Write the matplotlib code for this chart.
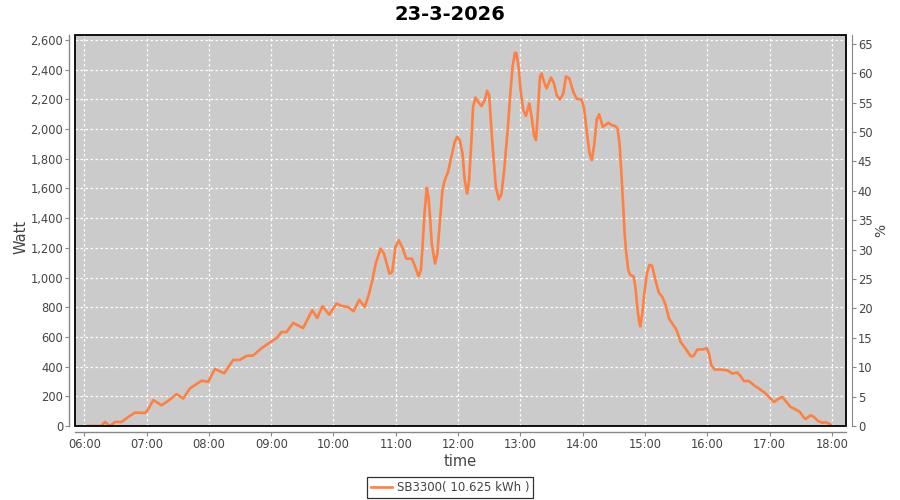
import matplotlib
matplotlib.use("Agg")
import matplotlib.pyplot as plt
from matplotlib.ticker import FuncFormatter, MultipleLocator, FixedLocator
from matplotlib.patches import Rectangle

title = "23-3-2026"
series_name = "SB3300( 10.625 kWh )"

hours = [6.064, 6.267, 6.332, 6.412, 6.492, 6.599, 6.706, 6.813, 6.973, 7.016,
         7.107, 7.241, 7.348, 7.481, 7.588, 7.695, 7.882, 7.989, 8.096, 8.246,
         8.390, 8.497, 8.604, 8.711, 8.845, 9.005, 9.086, 9.166, 9.246, 9.353,
         9.513, 9.658, 9.738, 9.824, 9.930, 10.048, 10.128, 10.228, 10.323, 10.413,
         10.503, 10.571, 10.624, 10.677, 10.757, 10.810, 10.899, 10.942, 10.995, 11.048,
         11.101, 11.169, 11.259, 11.312, 11.365, 11.402, 11.429, 11.460, 11.497, 11.524,
         11.550, 11.577, 11.630, 11.667, 11.709, 11.748, 11.786, 11.839, 11.893, 11.946,
         11.984, 12.027, 12.070, 12.107, 12.145, 12.177, 12.214, 12.241, 12.279, 12.322,
         12.375, 12.429, 12.466, 12.499, 12.525, 12.563, 12.606, 12.654, 12.697, 12.740,
         12.804, 12.842, 12.874, 12.912, 12.938, 12.971, 13.003, 13.046, 13.088, 13.142,
         13.180, 13.217, 13.249, 13.276, 13.314, 13.340, 13.378, 13.421, 13.491, 13.539,
         13.582, 13.635, 13.689, 13.731, 13.785, 13.849, 13.903, 13.984, 14.022, 14.065,
         14.108, 14.145, 14.183, 14.226, 14.263, 14.323, 14.414, 14.466, 14.522, 14.559,
         14.591, 14.618, 14.645, 14.672, 14.699, 14.731, 14.763, 14.817, 14.844, 14.882,
         14.909, 14.925, 14.957, 14.989, 15.032, 15.070, 15.113, 15.167, 15.220, 15.278,
         15.332, 15.385, 15.439, 15.508, 15.572, 15.652, 15.733, 15.775, 15.840, 15.947,
         15.989, 16.027, 16.064, 16.118, 16.214, 16.321, 16.401, 16.481, 16.535, 16.588,
         16.668, 16.749, 16.829, 16.920, 16.989, 17.070, 17.123, 17.203, 17.257, 17.337,
         17.417, 17.487, 17.540, 17.578, 17.658, 17.711, 17.775, 17.845, 17.898, 17.952,
         17.989]

watts = [0, 0, 27, 0, 27, 27, 61, 90, 88, 106,
         174, 140, 170, 215, 185, 253, 305, 298, 384, 355,
         445, 445, 472, 475, 524, 570, 592, 633, 633, 694,
         660, 780, 728, 807, 750, 825, 810, 802, 773, 850,
         802, 892, 982, 1094, 1195, 1161, 1026, 1038, 1206, 1251,
         1206, 1127, 1127, 1071, 1009, 1049, 1206, 1430, 1605, 1542,
         1408, 1228, 1094, 1161, 1380, 1589, 1656, 1712, 1813, 1915,
         1948, 1926, 1836, 1656, 1566, 1656, 1926, 2151, 2213, 2184,
         2155, 2196, 2258, 2229, 2061, 1836, 1611, 1526, 1566, 1724,
         2038, 2263, 2420, 2515, 2510, 2420, 2263, 2128, 2088, 2173,
         2083, 1960, 1926, 2083, 2353, 2375, 2319, 2274, 2348, 2308,
         2229, 2200, 2240, 2355, 2342, 2250, 2205, 2198, 2140, 1985,
         1840, 1791, 1890, 2066, 2100, 2015, 2043, 2027, 2020, 2004,
         1903, 1724, 1522, 1298, 1164, 1052, 1018, 1007, 940, 780,
         693, 671, 761, 895, 1030, 1086, 1079, 985, 900, 870,
         813, 724, 690, 645, 566, 521, 470, 470, 515, 517,
         526, 488, 409, 380, 380, 375, 353, 360, 335, 303,
         303, 274, 252, 225, 196, 162, 178, 196, 169, 128,
         112, 94, 61, 47, 72, 61, 34, 22, 25, 16,
         4]

x_ticks = [6, 7, 8, 9, 10, 11, 12, 13, 14, 15, 16, 17, 18]
pct_ticks = list(range(0, 66, 5))

line_color = "#ff8040"
plot_bg = "#cbcbcb"
txt = "#444444"
axis_col = "#888888"

fig = plt.figure(figsize=(9, 5), dpi=100)
fig.patch.set_facecolor("white")
ax = fig.add_axes([75/900, 74/500, 771/900, 391/500])
ax.set_facecolor(plot_bg)
ax.plot(hours, watts, color=line_color, lw=1.9, label=series_name, zorder=3)

ax.set_xlim(5.851, 18.226)
ax.set_ylim(0, 2634)
ax.xaxis.set_major_locator(FixedLocator(x_ticks))
ax.xaxis.set_major_formatter(FuncFormatter(lambda v, p: f"{int(round(v)):02d}:00"))
ax.yaxis.set_major_locator(MultipleLocator(200))
ax.yaxis.set_major_formatter(FuncFormatter(lambda v, p: f"{int(v):,}"))
ax.grid(True, color="white", ls=(0, (2, 2)), lw=0.9)
ax.set_axisbelow(True)

for s in ["top", "right"]:
    ax.spines[s].set_visible(False)
for s in ["left", "bottom"]:
    ax.spines[s].set_position(("outward", 4))
    ax.spines[s].set_color(axis_col)
    ax.spines[s].set_linewidth(1.0)
ax.tick_params(axis="both", colors=axis_col, labelcolor=txt, labelsize=8.3,
               length=3, width=0.8, direction="out", pad=1.5)

ax2 = ax.twinx()
ax2.set_ylim(0, 66.5)
ax2.yaxis.set_major_locator(FixedLocator(pct_ticks))
for s in ["top", "left", "bottom"]:
    ax2.spines[s].set_visible(False)
ax2.spines["right"].set_position(("outward", 4))
ax2.spines["right"].set_color(axis_col)
ax2.tick_params(axis="y", colors=axis_col, labelcolor=txt, labelsize=8.3,
                length=3, width=0.8, direction="out", pad=1.5)

ax.add_patch(Rectangle((0, 0), 1, 1, transform=ax.transAxes, fill=False,
                       edgecolor="black", lw=1.3, clip_on=False, zorder=5))

fig.text(0.5, 1 - 14/500, title, ha="center", va="center",
         fontsize=14, fontweight="bold", color="black")
fig.text(21/900, 1 - 237/500, "Watt", rotation=90, ha="center", va="center",
         fontsize=10.5, color=txt)
fig.text(881/900, 1 - 230/500, "%", rotation=90, ha="center", va="center",
         fontsize=10, color=txt)
fig.text(460/900, 1 - 461/500, "time", ha="center", va="center",
         fontsize=10.5, color=txt)

leg = fig.legend(loc="center", bbox_to_anchor=(450/900, 1 - 487.5/500),
                 frameon=True, fancybox=False, fontsize=8.5, handlelength=1.8,
                 borderpad=0.3, handletextpad=0.4, borderaxespad=0)
leg.get_frame().set_edgecolor("black")
leg.get_frame().set_linewidth(0.9)
for t in leg.get_texts():
    t.set_color(txt)

fig.savefig("out.png", dpi=100)
